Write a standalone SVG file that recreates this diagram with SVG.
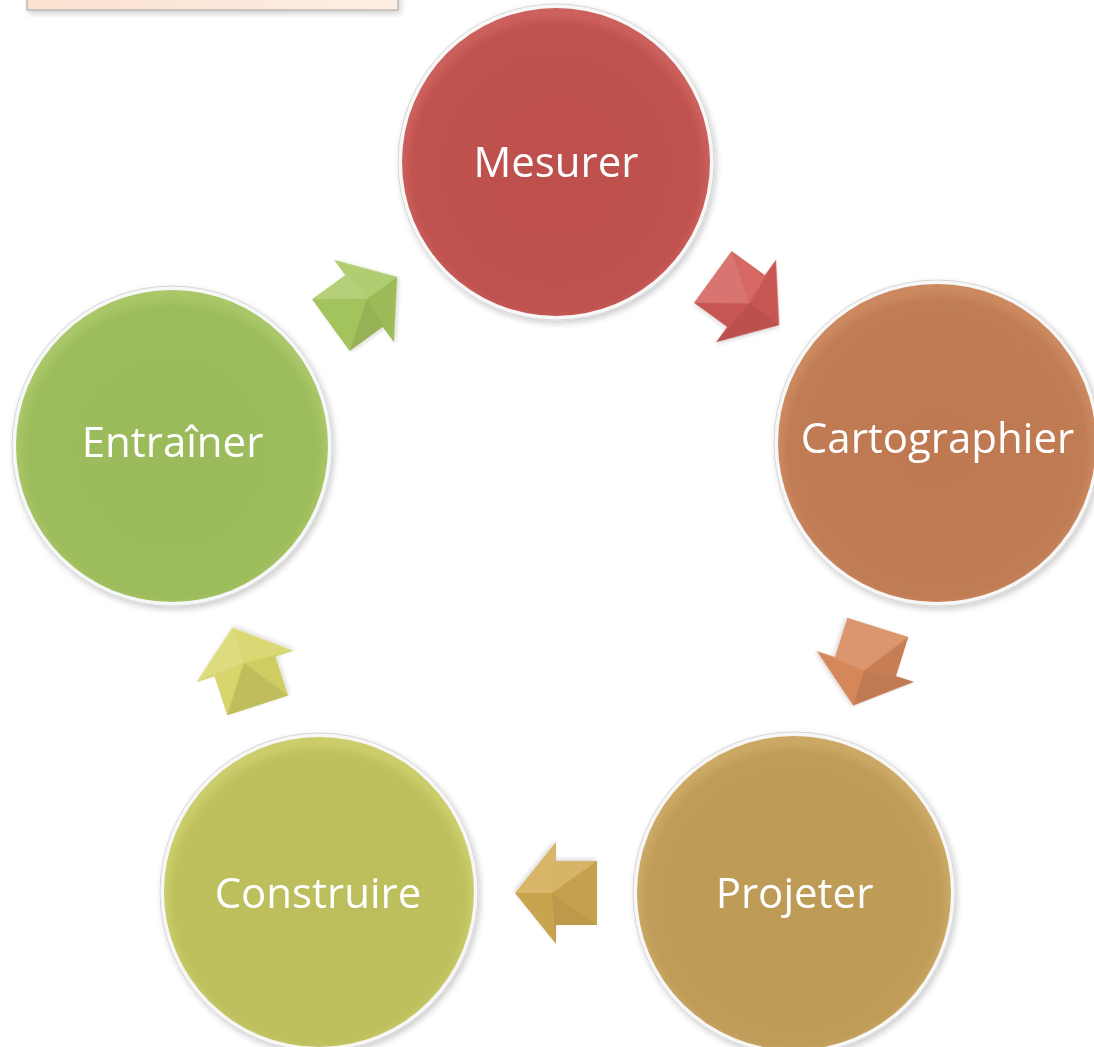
<svg xmlns="http://www.w3.org/2000/svg" width="1094" height="1047" viewBox="0 0 1094 1047">
  <defs>
    <style>
      .lbl { font-family: "Open Sans", "Liberation Sans", sans-serif; font-size: 42px; fill: #ffffff; text-anchor: middle; }
      .rim { fill: #f7f7f7; stroke: #d6d6d6; stroke-width: 1; }
      .w { fill: #ffffff; }
      .k { fill: #000000; }
    </style>
    <filter id="sh" x="-20%" y="-20%" width="140%" height="140%">
      <feGaussianBlur in="SourceAlpha" stdDeviation="3"/>
      <feOffset dx="2" dy="3" result="b"/>
      <feComponentTransfer><feFuncA type="linear" slope="0.2"/></feComponentTransfer>
      <feMerge><feMergeNode/><feMergeNode in="SourceGraphic"/></feMerge>
    </filter>
    <filter id="ash" x="-30%" y="-30%" width="160%" height="160%">
      <feGaussianBlur in="SourceAlpha" stdDeviation="2"/>
      <feOffset dx="1" dy="2" result="b"/>
      <feComponentTransfer><feFuncA type="linear" slope="0.15"/></feComponentTransfer>
      <feMerge><feMergeNode/><feMergeNode in="SourceGraphic"/></feMerge>
    </filter>
    <radialGradient id="gRed" cx="50%" cy="52%" r="50%">
      <stop offset="0" stop-color="#bd504d"/><stop offset="0.93" stop-color="#c0524f"/><stop offset="1" stop-color="#cc605c"/>
    </radialGradient>
    <radialGradient id="gOra" cx="50%" cy="52%" r="50%">
      <stop offset="0" stop-color="#be7951"/><stop offset="0.93" stop-color="#c07b53"/><stop offset="1" stop-color="#cc8960"/>
    </radialGradient>
    <radialGradient id="gGol" cx="50%" cy="52%" r="50%">
      <stop offset="0" stop-color="#bd9a56"/><stop offset="0.93" stop-color="#bf9c58"/><stop offset="1" stop-color="#cba965"/>
    </radialGradient>
    <radialGradient id="gYel" cx="50%" cy="52%" r="50%">
      <stop offset="0" stop-color="#bcbd5b"/><stop offset="0.93" stop-color="#bebf5d"/><stop offset="1" stop-color="#cbcc6a"/>
    </radialGradient>
    <radialGradient id="gGre" cx="50%" cy="52%" r="50%">
      <stop offset="0" stop-color="#9bba5a"/><stop offset="0.93" stop-color="#9dbc5c"/><stop offset="1" stop-color="#a9c768"/>
    </radialGradient>
    <linearGradient id="gBox" x1="0" y1="0" x2="1" y2="0">
      <stop offset="0" stop-color="#fbe1d0"/><stop offset="1" stop-color="#fdeee4"/>
    </linearGradient>
  </defs>

  <rect width="1094" height="1047" fill="#ffffff"/>

  <g id="header-box" filter="url(#sh)">
    <rect x="27" y="-30" width="371" height="40" fill="url(#gBox)" stroke="#a0a0a0" stroke-width="1"/>
  </g>

  <g id="connectors">
    <g id="arrow-mesurer-cartographier" transform="translate(746,301) rotate(36)" filter="url(#ash)">
      <polygon points="41,0 0,-51 0,-32 -41,-32 -41,32 0,32 0,51" fill="#d25c58"/>
      <polygon class="k" fill-opacity="0.05" points="41,0 0,-51 4,0"/>
      <polygon class="k" fill-opacity="0.11" points="41,0 0,51 4,0"/>
      <polygon class="w" fill-opacity="0.07" points="0,-51 0,-32 -41,-32 4,0"/>
      <polygon class="k" fill-opacity="0.05" points="0,51 0,32 -41,32 4,0"/>
      <polygon class="w" fill-opacity="0.15" points="-41,-32 -41,32 4,0"/>
    </g>
    <g id="arrow-cartographier-projeter" transform="translate(865.5,666.5) rotate(107.5)" filter="url(#ash)">
      <polygon points="41,0 0,-51 0,-32 -41,-32 -41,32 0,32 0,51" fill="#d8895c"/>
      <polygon class="k" fill-opacity="0.11" points="41,0 0,-51 4,0"/>
      <polygon class="k" fill-opacity="0.01" points="41,0 0,51 4,0"/>
      <polygon class="k" fill-opacity="0.08" points="0,-51 0,-32 -41,-32 4,0"/>
      <polygon class="w" fill-opacity="0.12" points="0,51 0,32 -41,32 4,0"/>
      <polygon class="w" fill-opacity="0.11" points="-41,-32 -41,32 4,0"/>
    </g>
    <g id="arrow-projeter-construire" transform="translate(556,893) rotate(180)" filter="url(#ash)">
      <polygon points="41,0 0,-51 0,-32 -41,-32 -41,32 0,32 0,51" fill="#d0aa52"/>
      <polygon class="k" fill-opacity="0.03" points="41,0 0,-51 4,0"/>
      <polygon class="w" fill-opacity="0.15" points="41,0 0,51 4,0"/>
      <polygon class="k" fill-opacity="0.09" points="0,-51 0,-32 -41,-32 4,0"/>
      <polygon class="w" fill-opacity="0.13" points="0,51 0,32 -41,32 4,0"/>
      <polygon class="k" fill-opacity="0.05" points="-41,-32 -41,32 4,0"/>
    </g>
    <g id="arrow-construire-entrainer" transform="translate(245,666.5) rotate(252)" filter="url(#ash)">
      <polygon points="41,0 0,-51 0,-32 -41,-32 -41,32 0,32 0,51" fill="#d6d466"/>
      <polygon class="w" fill-opacity="0.16" points="41,0 0,-51 4,0"/>
      <polygon class="w" fill-opacity="0.1" points="41,0 0,51 4,0"/>
      <polygon class="w" fill-opacity="0.04" points="0,-51 0,-32 -41,-32 4,0"/>
      <polygon class="k" fill-opacity="0.03" points="0,51 0,32 -41,32 4,0"/>
      <polygon class="k" fill-opacity="0.1" points="-41,-32 -41,32 4,0"/>
    </g>
    <g id="arrow-entrainer-mesurer" transform="translate(364,301) rotate(-36)" filter="url(#ash)">
      <polygon points="41,0 0,-51 0,-32 -41,-32 -41,32 0,32 0,51" fill="#a7c75f"/>
      <polygon class="w" fill-opacity="0.12" points="41,0 0,-51 4,0"/>
      <polygon class="k" fill-opacity="0.06" points="41,0 0,51 4,0"/>
      <polygon class="w" fill-opacity="0.16" points="0,-51 0,-32 -41,-32 4,0"/>
      <polygon class="k" fill-opacity="0.1" points="0,51 0,32 -41,32 4,0"/>
      <polygon class="k" fill-opacity="0.02" points="-41,-32 -41,32 4,0"/>
    </g>
  </g>

  <g id="node-mesurer" filter="url(#sh)">
    <circle class="rim" cx="556" cy="162" r="158"/>
    <circle cx="556" cy="162" r="154" fill="url(#gRed)"/>
    <text class="lbl" x="556" y="177">Mesurer</text>
  </g>
  <g id="node-cartographier" filter="url(#sh)">
    <circle class="rim" cx="937" cy="443" r="163"/>
    <circle cx="937" cy="443" r="159" fill="url(#gOra)"/>
    <text class="lbl" x="937.5" y="453">Cartographier</text>
  </g>
  <g id="node-projeter" filter="url(#sh)">
    <circle class="rim" cx="794" cy="893" r="161"/>
    <circle cx="794" cy="893" r="157" fill="url(#gGol)"/>
    <text class="lbl" x="794.5" y="908">Projeter</text>
  </g>
  <g id="node-construire" filter="url(#sh)">
    <circle class="rim" cx="319" cy="892" r="159"/>
    <circle cx="319" cy="892" r="155" fill="url(#gYel)"/>
    <text class="lbl" x="318" y="908">Construire</text>
  </g>
  <g id="node-entrainer" filter="url(#sh)">
    <circle class="rim" cx="172" cy="446" r="160"/>
    <circle cx="172" cy="446" r="156" fill="url(#gGre)"/>
    <text class="lbl" x="172.5" y="457">Entraîner</text>
  </g>
</svg>
